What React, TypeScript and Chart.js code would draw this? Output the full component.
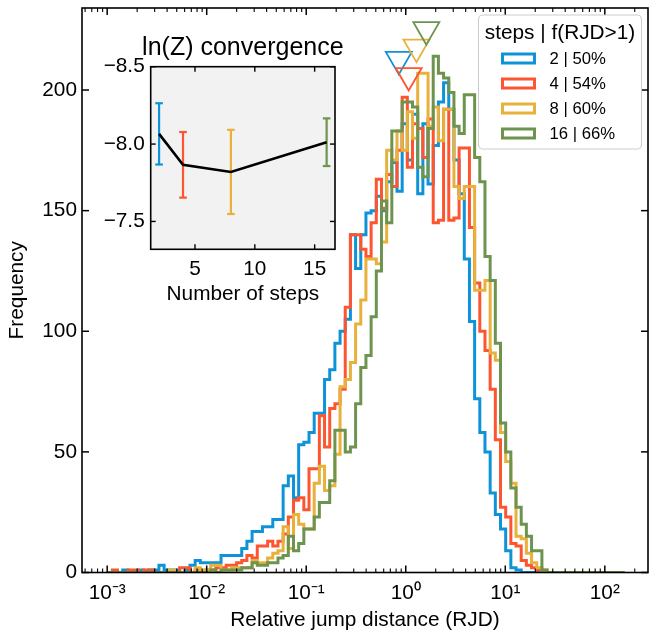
import React, { useEffect, useRef } from 'react';
import { Chart, registerables } from 'chart.js';

Chart.register(...registerables);

const FONT_FAMILY = "'Liberation Sans', Arial, Helvetica, sans-serif";

// ---- histogram binning (log-spaced bins of RJD) ----
const BIN_LOG_MIN = -3.0;
const BIN_LOG_MAX = 2.2;
const N_BINS = 100;

// ---- series meta ----
const STEPS = [2, 4, 8, 16];
const FRAC_ABOVE_1 = ['50%', '54%', '60%', '66%'];
const COLORS = ['#0e93d8', '#fe5531', '#e8b13b', '#6d944f'];

// ---- histogram counts per bin (100 bins) ----
const COUNTS_STEPS_2 = [
  0, 0, 0, 1, 0, 0, 1, 0, 1, 1,
  3, 1, 1, 1, 0, 1, 3, 5, 4, 4,
  4, 4, 7, 7, 7, 7, 10, 13, 17, 17,
  19, 19, 22, 22, 36, 40, 31, 53, 54, 58,
  66, 66, 80, 84, 95, 100, 105, 140, 126, 140,
  149, 150, 156, 150, 162, 170, 158, 186, 171, 190,
  157, 186, 161, 177, 195, 203, 192, 171, 157, 130,
  104, 72, 58, 50, 33, 24, 18, 9, 2, 1,
  0, 0, 0, 0, 0, 0, 0, 0, 0, 0,
  0, 0, 0, 0, 0, 0, 0, 0, 0, 0,
];
const COUNTS_STEPS_4 = [
  0, 1, 0, 0, 1, 1, 0, 1, 1, 0,
  0, 0, 0, 0, 2, 2, 0, 1, 0, 1,
  1, 2, 2, 3, 3, 4, 5, 7, 6, 11,
  11, 13, 11, 13, 16, 23, 30, 31, 26, 43,
  43, 65, 52, 68, 70, 76, 110, 140, 140, 134,
  131, 145, 163, 151, 165, 160, 175, 197, 168, 186,
  184, 172, 188, 145, 146, 192, 146, 147, 176, 176,
  143, 120, 100, 92, 76, 55, 27, 23, 12, 11,
  5, 3, 2, 1, 0, 0, 0, 0, 0, 0,
  0, 0, 0, 0, 0, 0, 0, 0, 0, 0,
];
const COUNTS_STEPS_8 = [
  0, 0, 0, 0, 0, 0, 0, 0, 0, 0,
  0, 0, 1, 0, 0, 0, 0, 2, 1, 1,
  3, 3, 1, 1, 2, 2, 2, 2, 5, 4,
  4, 6, 8, 9, 19, 10, 24, 20, 18, 18,
  37, 44, 34, 36, 49, 77, 80, 87, 103, 113,
  130, 130, 128, 137, 175, 171, 183, 175, 191, 180,
  207, 207, 185, 193, 179, 192, 192, 160, 155, 160,
  160, 117, 117, 121, 91, 88, 58, 46, 37, 15,
  14, 8, 4, 2, 1, 0, 0, 0, 0, 0,
  0, 0, 0, 0, 0, 0, 0, 0, 0, 0,
];
const COUNTS_STEPS_16 = [
  0, 0, 0, 0, 0, 0, 0, 0, 0, 0,
  0, 0, 0, 0, 0, 0, 0, 0, 0, 0,
  1, 0, 1, 1, 1, 1, 2, 2, 4, 3,
  3, 4, 4, 6, 7, 15, 9, 12, 18, 18,
  23, 29, 29, 38, 59, 59, 50, 52, 70, 85,
  90, 106, 125, 154, 145, 183, 183, 195, 195, 193,
  168, 164, 184, 214, 207, 205, 199, 185, 182, 198,
  198, 172, 162, 131, 121, 95, 62, 50, 35, 27,
  20, 15, 9, 9, 1, 0, 0, 0, 0, 0,
  0, 0, 0, 0, 0, 0, 0, 0, 0, 0,
];

// ---- triangle markers above the peaks ----
const MARKER_X = [0.851, 1.07, 1.28, 1.61];
const MARKER_Y = [212.7, 206.0, 217.8, 225.0];

// ---- inset: ln(Z) convergence ----
const INSET_TITLE = 'ln(Z) convergence';
const LNZ_MEAN = [-8.066, -7.866, -7.82, -8.012];
const LNZ_ERR = [0.198, 0.212, 0.272, 0.154];

// ---- axes ----
const X_LOG_MIN = -3.253;
const X_LOG_MAX = 2.434;
const X_MAJOR = [1e-3, 1e-2, 1e-1, 1, 10, 100];
const X_LABELS = ['10\u207B\u00B3', '10\u207B\u00B2', '10\u207B\u00B9', '10\u2070', '10\u00B9', '10\u00B2'];
const Y_MAX = 234;
const Y_TICKS = [0, 50, 100, 150, 200];
const INSET_X_MIN = 1.3;
const INSET_X_MAX = 16.7;
const INSET_X_TICKS = [5, 10, 15];
const INSET_Y_MIN = -8.5;
const INSET_Y_MAX = -7.32;
const INSET_Y_TICKS = [-8.5, -8.0, -7.5];

const SERIES = [COUNTS_STEPS_2, COUNTS_STEPS_4, COUNTS_STEPS_8, COUNTS_STEPS_16];

const BIN_EDGES = Array.from({ length: N_BINS + 1 }, (_, k) =>
  Math.pow(10, BIN_LOG_MIN + ((BIN_LOG_MAX - BIN_LOG_MIN) * k) / N_BINS)
);

function stepPoints(counts: number[]) {
  const pts: { x: number; y: number }[] = [{ x: BIN_EDGES[0], y: 0 }];
  counts.forEach((c, k) => pts.push({ x: BIN_EDGES[k], y: c }));
  pts.push({ x: BIN_EDGES[N_BINS], y: counts[N_BINS - 1] });
  pts.push({ x: BIN_EDGES[N_BINS], y: 0 });
  return pts;
}

function seg(ctx: CanvasRenderingContext2D, x1: number, y1: number, x2: number, y2: number) {
  ctx.beginPath();
  ctx.moveTo(x1, y1);
  ctx.lineTo(x2, y2);
  ctx.stroke();
}

function zeroPad(s: any) {
  s.paddingTop = 0;
  s.paddingBottom = 0;
  s.paddingLeft = 0;
  s.paddingRight = 0;
}

const mainDecor = {
  id: 'mainDecor',
  afterDatasetsDraw(chart: any) {
    const { ctx, chartArea: a, scales } = chart;
    const x = scales.x;
    const y = scales.y;
    ctx.save();
    ctx.strokeStyle = '#000';
    for (let d = Math.floor(X_LOG_MIN); d <= Math.ceil(X_LOG_MAX); d++) {
      for (let m = 1; m <= 9; m++) {
        const v = m * Math.pow(10, d);
        if (v < x.min || v > x.max) continue;
        const px = x.getPixelForValue(v);
        const len = m === 1 ? 7 : 4;
        ctx.lineWidth = m === 1 ? 1.5 : 1.1;
        seg(ctx, px, a.bottom, px, a.bottom - len);
        seg(ctx, px, a.top, px, a.top + len);
      }
    }
    ctx.lineWidth = 1.5;
    Y_TICKS.forEach((v) => {
      const py = y.getPixelForValue(v);
      seg(ctx, a.left, py, a.left + 7, py);
      seg(ctx, a.right, py, a.right - 7, py);
    });
    ctx.lineWidth = 1.6;
    ctx.strokeRect(a.left, a.top, a.right - a.left, a.bottom - a.top);
    ctx.restore();
  },
  afterDraw(chart: any) {
    const { ctx, chartArea: a } = chart;
    ctx.save();
    const w = 163;
    const h = 134;
    const x0 = a.right - 6.5 - w;
    const y0 = a.top + 7;
    const r = 4;
    ctx.beginPath();
    ctx.moveTo(x0 + r, y0);
    ctx.lineTo(x0 + w - r, y0);
    ctx.arcTo(x0 + w, y0, x0 + w, y0 + r, r);
    ctx.lineTo(x0 + w, y0 + h - r);
    ctx.arcTo(x0 + w, y0 + h, x0 + w - r, y0 + h, r);
    ctx.lineTo(x0 + r, y0 + h);
    ctx.arcTo(x0, y0 + h, x0, y0 + h - r, r);
    ctx.lineTo(x0, y0 + r);
    ctx.arcTo(x0, y0, x0 + r, y0, r);
    ctx.closePath();
    ctx.fillStyle = 'rgba(255,255,255,0.85)';
    ctx.fill();
    ctx.strokeStyle = '#cccccc';
    ctx.lineWidth = 1;
    ctx.stroke();

    ctx.fillStyle = '#000';
    ctx.textBaseline = 'middle';
    ctx.textAlign = 'center';
    ctx.font = `20.8px ${FONT_FAMILY}`;
    ctx.fillText('steps | f(RJD>1)', x0 + w / 2, y0 + 18.5);

    ctx.textAlign = 'left';
    ctx.font = `16.7px ${FONT_FAMILY}`;
    STEPS.forEach((s, i) => {
      const cy = y0 + 43.5 + 25 * i;
      ctx.strokeStyle = COLORS[i];
      ctx.lineWidth = 3;
      ctx.strokeRect(x0 + 24, cy - 4.5, 32, 9);
      ctx.fillStyle = '#000';
      ctx.fillText(`${s} | ${FRAC_ABOVE_1[i]}`, x0 + 71, cy + 1);
    });
    ctx.restore();
  },
};

const insetDecor = {
  id: 'insetDecor',
  beforeDatasetsDraw(chart: any) {
    const { ctx, chartArea: a, scales } = chart;
    const x = scales.x;
    const y = scales.y;
    ctx.save();
    ctx.fillStyle = '#f2f2f2';
    ctx.fillRect(a.left, a.top, a.right - a.left, a.bottom - a.top);
    STEPS.forEach((s, i) => {
      const px = x.getPixelForValue(s);
      const t = y.getPixelForValue(LNZ_MEAN[i] - LNZ_ERR[i]);
      const b = y.getPixelForValue(LNZ_MEAN[i] + LNZ_ERR[i]);
      ctx.strokeStyle = COLORS[i];
      ctx.lineWidth = 2.2;
      seg(ctx, px, t, px, b);
      seg(ctx, px - 3.8, t, px + 3.8, t);
      seg(ctx, px - 3.8, b, px + 3.8, b);
    });
    ctx.restore();
  },
  afterDatasetsDraw(chart: any) {
    const { ctx, chartArea: a, scales } = chart;
    const x = scales.x;
    const y = scales.y;
    ctx.save();
    ctx.strokeStyle = '#000';
    ctx.lineWidth = 1.4;
    INSET_X_TICKS.forEach((v) => {
      const px = x.getPixelForValue(v);
      seg(ctx, px, a.bottom, px, a.bottom - 5);
      seg(ctx, px, a.top, px, a.top + 5);
    });
    INSET_Y_TICKS.forEach((v) => {
      const py = y.getPixelForValue(v);
      seg(ctx, a.left, py, a.left + 5, py);
      seg(ctx, a.right, py, a.right - 5, py);
    });
    ctx.lineWidth = 1.6;
    ctx.strokeRect(a.left, a.top, a.right - a.left, a.bottom - a.top);
    ctx.fillStyle = '#000';
    ctx.font = `25px ${FONT_FAMILY}`;
    ctx.textAlign = 'center';
    ctx.textBaseline = 'middle';
    ctx.fillText(INSET_TITLE, (a.left + a.right) / 2, a.top - 19);
    ctx.restore();
  },
};

function mainConfig(): any {
  return {
    type: 'line',
    data: {
      datasets: [
        ...SERIES.map((counts, i) => ({
          type: 'line',
          label: `${STEPS[i]} | ${FRAC_ABOVE_1[i]}`,
          data: stepPoints(counts),
          borderColor: COLORS[i],
          backgroundColor: COLORS[i],
          borderWidth: 3,
          pointRadius: 0,
          pointHoverRadius: 0,
          stepped: 'before',
          fill: false,
          tension: 0,
          borderJoinStyle: 'miter',
          borderCapStyle: 'butt',
          order: 10 - i,
        })),
        {
          type: 'line',
          label: 'markers',
          data: MARKER_X.map((mx, i) => ({ x: mx, y: MARKER_Y[i] })),
          showLine: false,
          pointStyle: 'triangle',
          rotation: 180,
          pointRadius: 15,
          pointHoverRadius: 15,
          pointBorderWidth: 1.8,
          pointBorderColor: COLORS,
          pointBackgroundColor: 'rgba(0,0,0,0)',
          clip: false,
          order: 0,
        },
      ],
    },
    options: {
      responsive: false,
      animation: false,
      events: [],
      layout: { autoPadding: false, padding: { left: 0, top: 8, right: 3, bottom: 0 } },
      plugins: { legend: { display: false }, tooltip: { enabled: false }, title: { display: false } },
      scales: {
        x: {
          type: 'logarithmic',
          min: Math.pow(10, X_LOG_MIN),
          max: Math.pow(10, X_LOG_MAX),
          afterBuildTicks: (s: any) => {
            s.ticks = X_MAJOR.map((v) => ({ value: v, major: true }));
          },
          afterFit: (s: any) => {
            s.height = 61.5;
            zeroPad(s);
          },
          ticks: {
            autoSkip: false,
            maxRotation: 0,
            minRotation: 0,
            padding: 8,
            color: '#000',
            font: { size: 20.8 },
            callback: (_v: any, i: number) => X_LABELS[i],
          },
          grid: { display: false, drawTicks: false },
          border: { display: false },
          title: {
            display: true,
            text: 'Relative jump distance (RJD)',
            color: '#000',
            font: { size: 20.8 },
            padding: { top: 0, bottom: 1.7 },
          },
        },
        y: {
          type: 'linear',
          min: 0,
          max: Y_MAX,
          afterBuildTicks: (s: any) => {
            s.ticks = Y_TICKS.map((v) => ({ value: v }));
          },
          afterFit: (s: any) => {
            s.width = 82;
            zeroPad(s);
          },
          ticks: {
            padding: 5,
            color: '#000',
            font: { size: 20.8 },
            callback: (v: any) => String(v),
          },
          grid: { display: false, drawTicks: false },
          border: { display: false },
          title: {
            display: true,
            text: 'Frequency',
            color: '#000',
            font: { size: 20.8 },
            padding: { top: 5, bottom: 0 },
          },
        },
      },
    },
    plugins: [mainDecor],
  };
}

function insetConfig(): any {
  return {
    type: 'line',
    data: {
      datasets: [
        {
          label: 'ln(Z)',
          data: STEPS.map((s, i) => ({ x: s, y: LNZ_MEAN[i] })),
          borderColor: '#000',
          backgroundColor: '#000',
          borderWidth: 2.6,
          pointRadius: 0,
          pointHoverRadius: 0,
          fill: false,
          tension: 0,
        },
      ],
    },
    options: {
      responsive: false,
      animation: false,
      events: [],
      layout: { autoPadding: false, padding: { left: 0, top: 66.7, right: 316, bottom: 324.7 } },
      plugins: {
        legend: { display: false },
        tooltip: { enabled: false },
        title: { display: false },
      },
      scales: {
        x: {
          type: 'linear',
          min: INSET_X_MIN,
          max: INSET_X_MAX,
          afterBuildTicks: (s: any) => {
            s.ticks = INSET_X_TICKS.map((v) => ({ value: v }));
          },
          afterFit: (s: any) => {
            s.height = 60;
            zeroPad(s);
          },
          ticks: {
            padding: 7.7,
            color: '#000',
            maxRotation: 0,
            font: { size: 20.8 },
            callback: (v: any) => String(v),
          },
          grid: { display: false, drawTicks: false },
          border: { display: false },
          title: {
            display: true,
            text: 'Number of steps',
            color: '#000',
            font: { size: 20.8 },
            padding: { top: 0, bottom: 2.8 },
          },
        },
        y: {
          type: 'linear',
          min: INSET_Y_MIN,
          max: INSET_Y_MAX,
          reverse: true,
          afterBuildTicks: (s: any) => {
            s.ticks = INSET_Y_TICKS.map((v) => ({ value: v }));
          },
          afterFit: (s: any) => {
            s.width = 150.7;
            zeroPad(s);
          },
          ticks: {
            padding: 6,
            color: '#000',
            font: { size: 20.8 },
            callback: (v: any) => (v < 0 ? '\u2212' : '') + Math.abs(Number(v)).toFixed(1),
          },
          grid: { display: false, drawTicks: false },
          border: { display: false },
        },
      },
    },
    plugins: [insetDecor],
  };
}

export default function App() {
  const mainRef = useRef<HTMLCanvasElement>(null);
  const insetRef = useRef<HTMLCanvasElement>(null);

  useEffect(() => {
    Chart.defaults.font.family = FONT_FAMILY;
    Chart.defaults.color = '#000';
    const main = new Chart(mainRef.current as HTMLCanvasElement, mainConfig());
    const inset = new Chart(insetRef.current as HTMLCanvasElement, insetConfig());
    return () => {
      main.destroy();
      inset.destroy();
    };
  }, []);

  const canvasStyle: React.CSSProperties = { position: 'absolute', left: 0, top: 0, width: 651, height: 634 };
  return (
    <div style={{ position: 'absolute', left: 0, top: 0, width: 651, height: 634, background: '#fff' }}>
      <canvas ref={mainRef} width={651} height={634} style={canvasStyle} />
      <canvas ref={insetRef} width={651} height={634} style={canvasStyle} />
    </div>
  );
}
